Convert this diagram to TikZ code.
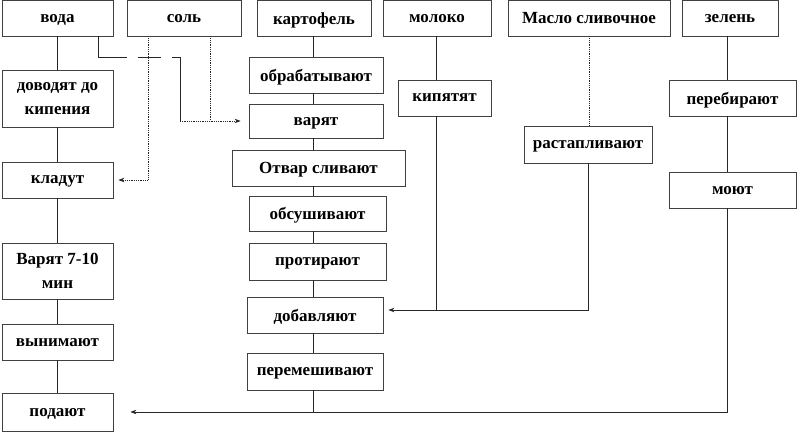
\documentclass[tikz,border=0pt]{standalone}
\usepackage{fontspec}
\setmainfont{Liberation Serif}
\usetikzlibrary{arrows.meta}

\begin{document}
\begin{tikzpicture}[x=1pt,y=-1pt,
  box/.style={draw=black!75, line width=0.8pt, fill=white, inner sep=0pt, align=center,
    text depth=0pt, font=\fontsize{17}{24}\selectfont\bfseries},
  link/.style={draw=black!85, line width=0.8pt},
  arr/.style={link, -{Stealth[length=6pt,width=4.5pt]}}]
\useasboundingbox (0,0) rectangle (800,436);

% ingredients
\node[box, minimum width=111, minimum height=35.5] (voda) at (57.5,18.25) {вода};
\node[box, minimum width=114, minimum height=35.5] (sol) at (184,18.25) {соль};
\node[box, minimum width=114, minimum height=35.5] (kart) at (314,18.25) {картофель};
\node[box, minimum width=108, minimum height=35.5] (moloko) at (437,18.25) {молоко};
\node[box, minimum width=162, minimum height=35.5] (maslo) at (589,18.25) {Масло сливочное};
\node[box, minimum width=96, minimum height=35.5] (zelen) at (730,18.25) {зелень};

% water
\node[box, minimum width=111, minimum height=57] (dovod) at (57.5,98.5) {доводят до\\кипения};
\node[box, minimum width=111, minimum height=36] (kladut) at (57.5,180) {кладут};
\node[box, minimum width=111, minimum height=56] (varmin) at (57.5,271) {Варят 7-10\\мин};
\node[box, minimum width=111, minimum height=36] (vynim) at (57.5,342) {вынимают};
\node[box, minimum width=111, minimum height=38] (podayut) at (57.5,412) {подают};

% potato
\node[box, minimum width=134, minimum height=36] (obrab) at (316,75) {обрабатывают};
\node[box, minimum width=134, minimum height=34] (varyat) at (316,121) {варят};
\node[box, minimum width=173, minimum height=36] (otvar) at (318.5,168) {Отвар сливают};
\node[box, minimum width=137, minimum height=35] (obsush) at (317.5,213.5) {обсушивают};
\node[box, minimum width=137, minimum height=37] (protir) at (317.5,261.5) {протирают};
\node[box, minimum width=136, minimum height=36] (dobavl) at (315,315) {добавляют};
\node[box, minimum width=136, minimum height=37] (peremesh) at (315,371.5) {перемешивают};

% milk, butter, greens
\node[box, minimum width=93, minimum height=36] (kipyat) at (444.5,98) {кипятят};
\node[box, minimum width=128, minimum height=37] (rastap) at (588,144.5) {растапливают};
\node[box, minimum width=127, minimum height=36] (pereb) at (732.5,98) {перебирают};
\node[box, minimum width=127, minimum height=36] (moyut) at (732.5,190) {моют};

\coordinate (milkline) at ([xshift=-1]moloko.south);
\coordinate (potline) at ([xshift=-1]kart.south);
\coordinate (greenline) at ([xshift=-3]zelen.south);
\coordinate (vodabend) at (180,57);
\path ([yshift=5pt]dobavl.east) coordinate (addin);

% water chain
\draw[link] (voda.south) -- (dovod.north);
\draw[link] (dovod.south) -- (kladut.north);
\draw[link] (kladut.south) -- (varmin.north);
\draw[link] (varmin.south) -- (vynim.north);
\draw[link] (vynim.south) -- (podayut.north);

% water and salt to the pot
\draw[link, dash pattern=on 50pt off 11pt on 23pt off 11pt] ([xshift=40.5]voda.south) |- (vodabend);
\draw[link] (vodabend) -- (vodabend |- varyat.west);
\draw[arr, densely dotted, shorten >=8pt] (vodabend |- varyat.west) -- (varyat.west);
\draw[link, densely dotted] ([xshift=26]sol.south) -- ([xshift=26]sol.south |- varyat.west);
\draw[arr, densely dotted, shorten >=5pt] ([xshift=-36]sol.south) |- (kladut.east);

% potato chain
\draw[link] (potline) -- (potline |- obrab.north);
\draw[link] (potline |- obrab.south) -- (potline |- varyat.north);
\draw[link] (potline |- varyat.south) -- (potline |- otvar.north);
\draw[link] (potline |- otvar.south) -- (potline |- obsush.north);
\draw[link] (potline |- obsush.south) -- (potline |- protir.north);
\draw[link] (potline |- protir.south) -- (potline |- dobavl.north);
\draw[link] (potline |- dobavl.south) -- (potline |- peremesh.north);
\draw[link] (potline |- peremesh.south) -- (potline |- podayut.east);

% milk and butter
\draw[link] (milkline) -- (milkline |- kipyat.north);
\draw[arr, shorten >=5pt] (milkline |- kipyat.south) |- (addin);
\draw[link, densely dotted] (maslo.south) -- (maslo.south |- rastap.north);
\draw[link] (rastap.south) |- (milkline |- addin);

% greens
\draw[link] (greenline) -- (greenline |- pereb.north);
\draw[link] (greenline |- pereb.south) -- (greenline |- moyut.north);
\draw[arr, shorten >=17pt] (greenline |- moyut.south) |- (podayut.east);
\end{tikzpicture}
\end{document}
